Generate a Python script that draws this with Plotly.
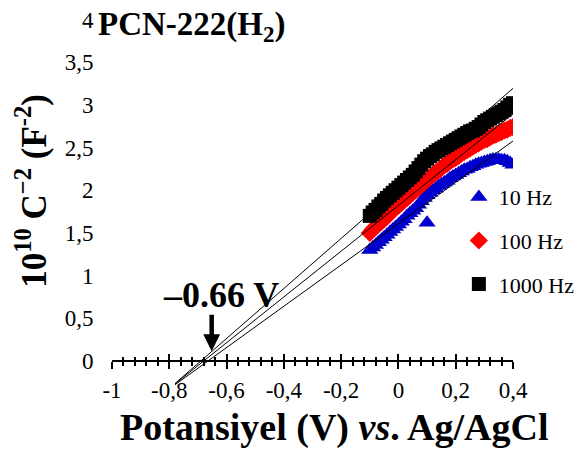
import plotly.graph_objects as go

# ---------------- data ----------------
x_pot = [-0.10, -0.09, -0.08, -0.07, -0.06, -0.05, -0.04, -0.03, -0.02, -0.01,
         0.00, 0.01, 0.02, 0.03, 0.04, 0.05, 0.06, 0.07, 0.08, 0.09,
         0.10, 0.11, 0.12, 0.13, 0.14, 0.15, 0.16, 0.17, 0.18, 0.19,
         0.20, 0.21, 0.22, 0.23, 0.24, 0.25, 0.26, 0.27, 0.28, 0.29,
         0.30, 0.31, 0.32, 0.33, 0.34, 0.35, 0.36, 0.37, 0.38, 0.39, 0.40]

y_10hz = [1.30, 1.33, 1.36, 1.39, 1.42, 1.45, 1.48, 1.51, 1.54, 1.57,
          1.60, 1.63, 1.66, 1.70, 1.73, 1.76, 1.79, 1.83, 1.87, 1.91,
          1.94, 1.97, 2.00, 2.02, 2.05, 2.07, 2.09, 2.11, 2.14, 2.16,
          2.18, 2.20, 2.22, 2.24, 2.25, 2.27, 2.28, 2.30, 2.31, 2.32,
          2.33, 2.34, 2.35, 2.36, 2.36, 2.36, 2.35, 2.35, 2.34, 2.32, 2.30]
x_10hz_extra = [0.10]
y_10hz_extra = [1.62]

y_100hz = [1.50, 1.54, 1.57, 1.60, 1.63, 1.66, 1.69, 1.73, 1.76, 1.79,
           1.82, 1.85, 1.88, 1.91, 1.94, 1.97, 2.00, 2.03, 2.06, 2.09,
           2.12, 2.15, 2.18, 2.21, 2.23, 2.26, 2.29, 2.31, 2.34, 2.36,
           2.38, 2.40, 2.43, 2.45, 2.47, 2.49, 2.51, 2.53, 2.55, 2.57,
           2.59, 2.60, 2.62, 2.64, 2.65, 2.67, 2.68, 2.70, 2.71, 2.73, 2.74]

y_1000hz = [1.70, 1.74, 1.77, 1.81, 1.84, 1.88, 1.91, 1.94, 1.97, 2.00,
            2.03, 2.06, 2.09, 2.12, 2.15, 2.18, 2.22, 2.26, 2.30, 2.34,
            2.37, 2.40, 2.42, 2.45, 2.47, 2.49, 2.51, 2.53, 2.55, 2.57,
            2.59, 2.61, 2.63, 2.65, 2.67, 2.69, 2.70, 2.72, 2.74, 2.77,
            2.80, 2.82, 2.84, 2.86, 2.88, 2.90, 2.92, 2.94, 2.97, 3.00, 3.02]

series_names = ["10 Hz", "100 Hz", "1000 Hz"]

# linear (Mott-Schottky) fits: slope, x-intercept, drawn x-extent
fit_slope = [2.42, 2.68, 2.93]
fit_x0 = [-0.665, -0.68, -0.69]
fit_xstart = [-0.78, -0.78, -0.78]
fit_xend = [0.46, 0.40, 0.40]

flatband_v = -0.66

x_tickvals = [-1, -0.8, -0.6, -0.4, -0.2, 0, 0.2, 0.4]
x_ticktext = ["-1", "-0,8", "-0,6", "-0,4", "-0,2", "0", "0,2", "0,4"]
y_tickvals = [0, 0.5, 1, 1.5, 2, 2.5, 3, 3.5, 4]
y_ticktext = ["0", "0,5", "1", "1,5", "2", "2,5", "3", "3,5", "4"]

# ---------------- figure ----------------
FONT = "Liberation Serif"
blue = "#0000CC"
red = "#FF0000"
black = "#000000"

fig = go.Figure()

fig.add_trace(go.Scatter(
    x=x_pot + x_10hz_extra, y=y_10hz + y_10hz_extra, mode="markers",
    name=series_names[0], legendgroup="a",
    marker=dict(symbol="triangle-up", size=15, color=blue, line=dict(width=0)),
))
fig.add_trace(go.Scatter(
    x=x_pot, y=y_100hz, mode="markers", name=series_names[1], legendgroup="b",
    marker=dict(symbol="diamond", size=14, color=red, line=dict(width=0)),
))
fig.add_trace(go.Scatter(
    x=x_pot, y=y_1000hz, mode="markers", name=series_names[2], legendgroup="c",
    marker=dict(symbol="square", size=14, color=black, line=dict(width=0)),
))

for i in range(3):
    xs = [fit_xstart[i], fit_xend[i]]
    ys = [fit_slope[i] * (xv - fit_x0[i]) for xv in xs]
    fig.add_trace(go.Scatter(
        x=xs, y=ys, mode="lines", showlegend=False,
        line=dict(color="black", width=1),
        xaxis="x2" if i == 0 else "x",
    ))

y_range = [-0.3045, 4.0527]
x_range = [-1, 0.4]
axis_pos = (0 - y_range[0]) / (y_range[1] - y_range[0])

fig.update_layout(
    width=582, height=452,
    margin=dict(l=112, r=69, t=15, b=65, autoexpand=False),
    paper_bgcolor="white", plot_bgcolor="white",
    font=dict(family=FONT, size=22, color="black"),
    xaxis=dict(
        range=x_range, anchor="free", position=axis_pos,
        showgrid=False, zeroline=False,
        showline=True, linecolor="black", linewidth=2,
        tickmode="array", tickvals=x_tickvals, ticktext=x_ticktext,
        ticks="outside", ticklen=7, tickwidth=2, tickcolor="black",
        ticklabelstandoff=1,
        tickfont=dict(family=FONT, size=23),
        minor=dict(ticks="outside", ticklen=4, tickwidth=2, tickcolor="black",
                   tickmode="linear", tick0=-1, dtick=0.04, showgrid=False),
    ),
    xaxis2=dict(
        range=x_range, anchor="free", position=axis_pos, overlaying="x",
        showgrid=False, zeroline=False, showline=False, showticklabels=False,
        tickmode="array", tickvals=x_tickvals,
        ticks="inside", ticklen=7, tickwidth=2, tickcolor="black",
        minor=dict(ticks="inside", ticklen=4, tickwidth=2, tickcolor="black",
                   tickmode="linear", tick0=-1, dtick=0.04, showgrid=False),
    ),
    yaxis=dict(
        range=y_range, showgrid=False, zeroline=False, showline=False,
        tickmode="array", tickvals=y_tickvals, ticktext=y_ticktext,
        ticks="outside", ticklen=13, tickcolor="rgba(0,0,0,0)",
        tickfont=dict(family=FONT, size=23),
    ),
    legend=dict(
        x=0.865, y=0.567, xanchor="left", yanchor="top",
        bgcolor="rgba(0,0,0,0)", font=dict(family=FONT, size=22),
        tracegroupgap=12,
    ),
    showlegend=True,
)

# axis titles
fig.add_annotation(
    x=0.554, y=-0.11, xref="paper", yref="paper", xanchor="center", yanchor="middle",
    text="<b>Potansiyel (V) <i>vs</i>. Ag/AgCl</b>", showarrow=False,
    font=dict(family=FONT, size=38, color="black"),
)
fig.add_annotation(
    x=-0.2, y=0.527, xref="paper", yref="paper", xanchor="center", yanchor="middle",
    text="<b>10<sup>10</sup> C<sup>\u22122</sup> (F<sup>-2</sup>)</b>", showarrow=False,
    textangle=-90, font=dict(family=FONT, size=35, color="black"),
)
fig.add_annotation(
    x=-0.04, y=0.968, xref="paper", yref="paper", xanchor="left", yanchor="middle",
    text="<b>PCN-222(H<sub>2</sub>)</b>", showarrow=False,
    font=dict(family=FONT, size=33, color="black"),
)
fig.add_annotation(
    x=-0.62, y=0.77, xref="x", yref="y", xanchor="center", yanchor="middle",
    text="<b>\u20130.66 V</b>", showarrow=False,
    font=dict(family=FONT, size=36, color="black"),
)
fig.add_annotation(
    x=-0.652, y=0.115, xref="x", yref="y",
    ax=-0.652, ay=0.56, axref="x", ayref="y",
    text="", showarrow=True, arrowhead=2, arrowsize=0.75, arrowwidth=4.5,
    arrowcolor="black",
)

fig.write_html("out.html")
